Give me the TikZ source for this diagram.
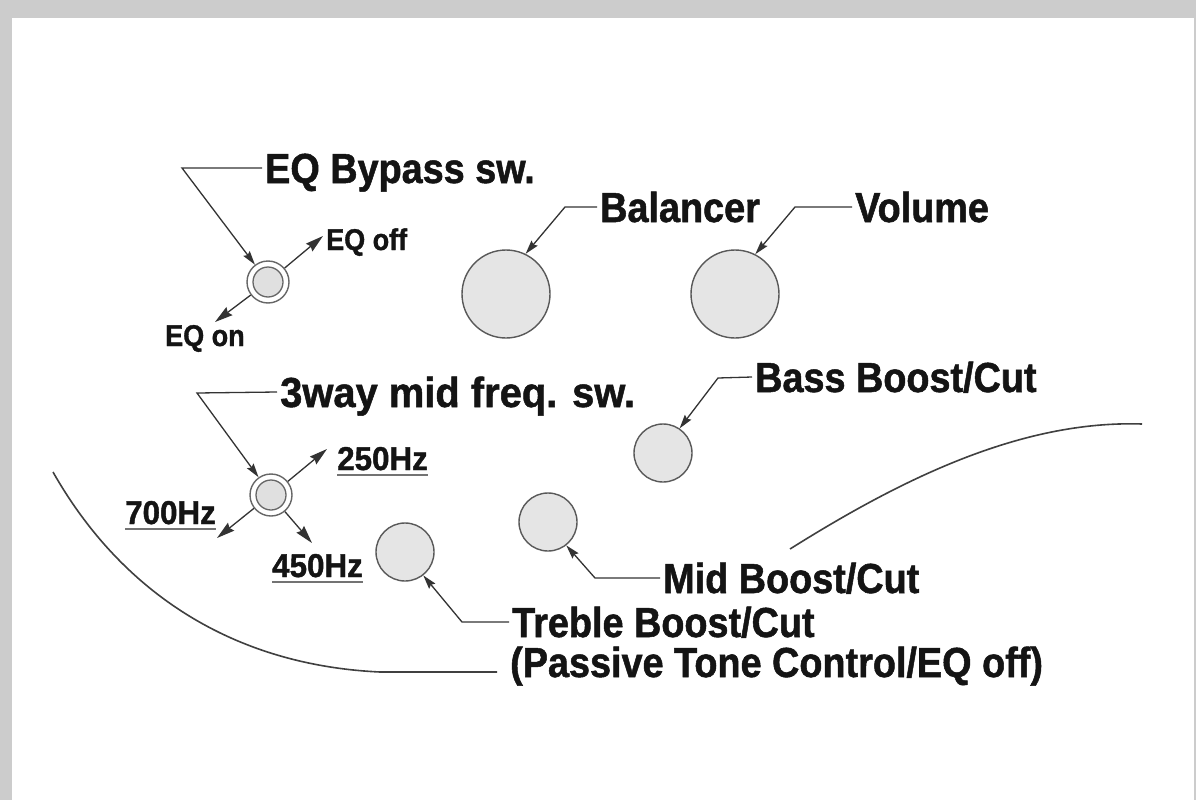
\documentclass[tikz,border=0pt]{standalone}
\usepackage{fontspec}
\newfontfamily\lab{Liberation Sans}[FakeStretch=0.9,BoldFeatures={FakeBold=1.2}]
\newfontfamily\labw{Liberation Sans}[FakeStretch=0.95,BoldFeatures={FakeBold=1.2}]
\usetikzlibrary{arrows.meta}
\begin{document}
\begin{tikzpicture}[x=1pt,y=-1pt,
  big/.style={inner sep=0pt, anchor=base west, font=\lab\bfseries\fontsize{42}{42}\selectfont, text height=30pt, text depth=0pt, text=black!92},
  bigw/.style={big, font=\labw\bfseries\fontsize{42}{42}\selectfont},
  small/.style={big, font=\lab\bfseries\fontsize{30}{30}\selectfont, text height=21.5pt},
  hz/.style={big, font=\labw\bfseries\fontsize{33}{33}\selectfont, text height=23.5pt},
  knob/.style={circle, draw=black!65, line width=1.4pt, fill=black!10, inner sep=0pt},
  swout/.style={circle, draw=black!60, line width=1.4pt, fill=white, minimum size=42pt, inner sep=0pt},
  swin/.style={circle, draw=black!60, line width=1.3pt, fill=black!12, minimum size=30pt, inner sep=0pt},
  lead/.style={draw=black!80, line width=1.3pt, -{Stealth[length=14pt,width=8pt,inset=2pt]}},
  swarr/.style={draw=black!80, line width=1.3pt, -{Stealth[length=18pt,width=10pt,inset=2pt]}},
  body/.style={draw=black!75, line width=1.6pt},
  uline/.style={draw=black!55, line width=2pt}
]
\fill[black!20] (0,0) rectangle (1196,800);
\fill[white] (12,18) rectangle (1194,800);
\useasboundingbox (0,0) rectangle (1196,800);

% body outline
\draw[body] (53,472) .. controls (120,590) and (230,665) .. (380,672) -- (497,672);
\draw[body] (790,549) .. controls (900,480) and (1020,420) .. (1142,424);

% knobs
\node[knob, minimum size=88pt] (balk) at (506,294) {};
\node[knob, minimum size=88pt] (volk) at (735,294) {};
\node[knob, minimum size=58pt] (bassk) at (663,453) {};
\node[knob, minimum size=58pt] (midk) at (548,522) {};
\node[knob, minimum size=58pt] (trek) at (405,552) {};
% switches
\node[swout] (sw1o) at (268,282) {}; \node[swin] (sw1) at (268,282) {};
\node[swout] (sw2o) at (271,495) {}; \node[swin] (sw2) at (271,495) {};

% labels
\node[big] (eqbp) at (265,183) {EQ Bypass sw.};
\node[big] (balt) at (600,222) {Balancer};
\node[big] (volt) at (855,222) {Volume};
\node[small] (eqoff) at (326,250) {EQ off};
\node[small] (eqon) at (165,346) {EQ on};
\node[bigw] (way) at (280,407) {3way mid freq. sw.};
\node[big] (basst) at (755,392) {Bass Boost/Cut};
\node[hz] (h250) at (337,470) {250Hz};
\node[hz] (h700) at (125,524) {700Hz};
\node[hz] (h450) at (272,577) {450Hz};
\node[big] (midt) at (663,593) {Mid Boost/Cut};
\node[big] (tret) at (512,637) {Treble Boost/Cut};
\node[big] (pas) at (510,677) {(Passive Tone Control/EQ off)};

% underlines
\foreach \n in {h250,h700,h450}
  \draw[uline] ([yshift=-5pt]\n.base west) -- ([yshift=-5pt]\n.base east);

% leaders
\coordinate (b1) at (182,168);
\draw[lead] ([xshift=-3pt]eqbp.west) -- (b1) -- (sw1o.127);
\coordinate (b2) at (565,207);
\draw[lead] ([xshift=-3pt]balt.west) -- (b2) -- (balk.64);
\coordinate (b3) at (795,207);
\draw[lead] ([xshift=-3pt]volt.west) -- (b3) -- (volk.63);
\coordinate (b4) at (197,393);
\draw[lead] ([xshift=-3pt]way.west) -- (b4) -- (sw2o.125);
\coordinate (b5) at (718,378);
\draw[lead] ([xshift=-3pt]basst.west) -- (b5) -- (bassk.56);
\coordinate (b6) at (595,578);
\draw[lead] ([xshift=-3pt]midt.west) -- (b6) -- (midk.-52);
\coordinate (b7) at (462,622);
\draw[lead] ([xshift=-3pt]tret.west) -- (b7) -- (trek.-52);

% switch arrows
\coordinate (toff) at (323,236); \draw[swarr] (sw1o.40) -- (toff);
\coordinate (ton) at (215,322); \draw[swarr] (sw1o.217) -- (ton);
\coordinate (t250) at (327,449); \draw[swarr] (sw2o.39) -- (t250);
\coordinate (t700) at (217,538); \draw[swarr] (sw2o.218) -- (t700);
\coordinate (t450) at (312,543); \draw[swarr] (sw2o.-50) -- (t450);
\end{tikzpicture}
\end{document}
